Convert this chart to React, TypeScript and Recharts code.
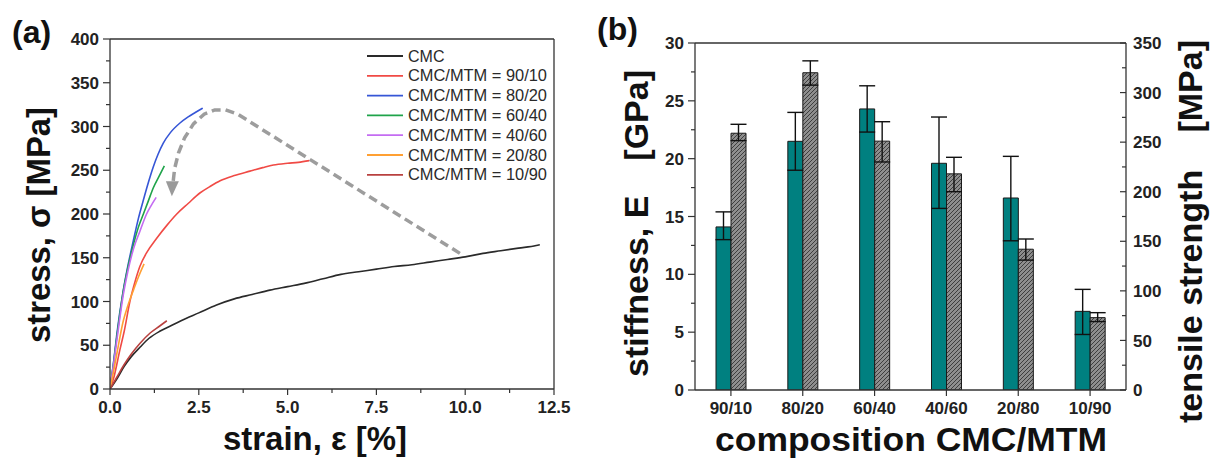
import React from 'react';
import { LineChart, Line, XAxis, YAxis, ReferenceLine, BarChart, Bar, ErrorBar } from 'recharts';

const FONT = '"Liberation Sans", Arial, Helvetica, sans-serif';
const AX = '#333';

// ---------- Panel (a): stress-strain curves ----------
const cmcStrain = [0, 0.2, 0.4, 0.6, 0.85, 1.1, 1.4, 1.7, 2.0, 2.5, 3.0, 3.5, 4.0, 4.5, 5.0, 5.5, 6.0, 6.5, 7.0, 7.5, 8.0, 8.5, 9.0, 9.5, 10.0, 10.5, 11.0, 11.5, 12.0, 12.1];
const cmcStress = [0, 12, 26, 37, 48, 58, 66, 72, 78, 87, 96, 103, 108, 113, 117, 121, 126, 131, 134, 137, 140, 142, 145, 148, 151, 155, 158, 161, 164, 165];

const s9010Strain = [0, 0.1, 0.28, 0.4, 0.56, 0.7, 0.84, 1.05, 1.31, 1.6, 1.88, 2.2, 2.53, 2.8, 3.1, 3.5, 3.94, 4.3, 4.6, 5.0, 5.3, 5.61];
const s9010Stress = [0, 12, 45, 66, 100, 122, 140, 157, 172, 187, 200, 212, 224, 231, 238, 244, 249, 253, 256, 258, 259, 261];

const s8020Strain = [0, 0.1, 0.19, 0.375, 0.5, 0.66, 0.8, 0.94, 1.08, 1.22, 1.35, 1.5, 1.7, 1.97, 2.2, 2.4, 2.61];
const s8020Stress = [0, 30, 62, 113, 140, 170, 195, 216, 236, 254, 268, 281, 293, 304, 311, 316, 321];

const s6040Strain = [0, 0.1, 0.2, 0.375, 0.5, 0.66, 0.8, 0.94, 1.08, 1.22, 1.38, 1.53];
const s6040Stress = [0, 30, 62, 112, 138, 165, 185, 200, 215, 230, 243, 255];

const s4060Strain = [0, 0.1, 0.2, 0.375, 0.5, 0.66, 0.84, 1.03, 1.15, 1.3];
const s4060Stress = [0, 28, 58, 108, 134, 160, 180, 200, 209, 219];

const s2080Strain = [0, 0.1, 0.2, 0.375, 0.5, 0.66, 0.8, 0.96];
const s2080Stress = [0, 20, 42, 78, 95, 113, 128, 143];

const s1090Strain = [0, 0.2, 0.4, 0.6, 0.84, 1.13, 1.4, 1.6];
const s1090Stress = [0, 14, 28, 40, 52, 64, 72, 78];

// dashed annotation arrow
const arrowStrain = [9.85, 3.6, 3.25, 2.95, 2.65, 2.35, 2.1, 1.93, 1.82, 1.77];
const arrowStress = [155, 314, 319, 319, 314, 303, 287, 270, 252, 234];

const seriesNames = ['CMC', 'CMC/MTM = 90/10', 'CMC/MTM = 80/20', 'CMC/MTM = 60/40', 'CMC/MTM = 40/60', 'CMC/MTM = 20/80', 'CMC/MTM = 10/90'];
const seriesColors = ['#2a2a2a', '#f04a45', '#3656d6', '#1fa34a', '#c46cf2', '#ffa033', '#b8413f'];
const seriesStrain = [cmcStrain, s9010Strain, s8020Strain, s6040Strain, s4060Strain, s2080Strain, s1090Strain];
const seriesStress = [cmcStress, s9010Stress, s8020Stress, s6040Stress, s4060Stress, s2080Stress, s1090Stress];

const strainTicks = [0, 1.25, 2.5, 3.75, 5, 6.25, 7.5, 8.75, 10, 11.25, 12.5];
const stressTicks = [0, 25, 50, 75, 100, 125, 150, 175, 200, 225, 250, 275, 300, 325, 350, 375, 400];

// ---------- Panel (b): stiffness / tensile strength ----------
const compositions = ['90/10', '80/20', '60/40', '40/60', '20/80', '10/90'];
const stiffness = [14.1, 21.5, 24.3, 19.6, 16.6, 6.8];
const stiffnessErr = [[1.1, 1.3], [2.5, 2.5], [2.0, 2.0], [3.9, 4.0], [3.7, 3.6], [2.0, 1.9]];
const strength = [259, 320, 251, 218, 142, 73];
const strengthErr = [[7.5, 9], [12.5, 12], [21, 19.6], [18, 16.7], [11, 10.3], [4, 5]];

const gpaTicks = [0, 2.5, 5, 7.5, 10, 12.5, 15, 17.5, 20, 22.5, 25, 27.5, 30];
const mpaTicks = [0, 25, 50, 75, 100, 125, 150, 175, 200, 225, 250, 275, 300, 325, 350];

const tickText = { fontFamily: FONT, fontWeight: 700, fontSize: 17, fill: '#222' } as const;

const LeftTick = (isMajor: (v: number) => boolean, fmt: (v: number) => string) => (props: any) => {
  const { x, y, payload } = props;
  const v = payload.value;
  const major = isMajor(v);
  return (
    <g>
      <line x1={x - (major ? 7 : 4)} x2={x} y1={y} y2={y} stroke={AX} strokeWidth={1.2} />
      {major && (
        <text x={x - 11} y={y} dy="0.36em" textAnchor="end" style={tickText}>{fmt(v)}</text>
      )}
    </g>
  );
};

const RightTick = (isMajor: (v: number) => boolean) => (props: any) => {
  const { x, y, payload } = props;
  const v = payload.value;
  const major = isMajor(v);
  return (
    <g>
      <line x1={x - (major ? 6 : 4)} x2={x} y1={y} y2={y} stroke={AX} strokeWidth={1.2} />
      {major && (
        <text x={x + 7} y={y} dy="0.36em" textAnchor="start" style={tickText}>{v}</text>
      )}
    </g>
  );
};

const BottomTick = (isMajor: (v: any) => boolean, fmt: (v: any) => string) => (props: any) => {
  const { x, y, payload } = props;
  const v = payload.value;
  const major = isMajor(v);
  return (
    <g>
      <line x1={x} x2={x} y1={y} y2={y + (major ? 6 : 4)} stroke={AX} strokeWidth={1.2} />
      {major && (
        <text x={x} y={y + 24} textAnchor="middle" style={tickText}>{fmt(v)}</text>
      )}
    </g>
  );
};

const arrowData = arrowStrain.map((x, i) => ({ x, y: arrowStress[i] }));

const ArrowDot = (p: any) => {
  if (p.index !== arrowStrain.length - 1) return <g key={`ad${p.index}`} />;
  const { cx, cy } = p;
  return (
    <polygon key="arrowhead" points={`${cx - 7},${cy - 3} ${cx + 6},${cy - 3} ${cx - 1},${cy + 12}`} fill="#9a9a9a" />
  );
};

export default function App() {
  const barData = compositions.map((c, i) => ({
    comp: c,
    E: stiffness[i],
    Eerr: stiffnessErr[i],
    TS: strength[i],
    TSerr: strengthErr[i],
  }));

  return (
    <div style={{ position: 'absolute', left: 0, top: 0, width: 1211, height: 460, background: '#fff', overflow: 'hidden' }}>
      <svg width={0} height={0} style={{ position: 'absolute' }}>
        <defs>
          <pattern id="hatch" patternUnits="userSpaceOnUse" width={4} height={4}>
            <rect width={4} height={4} fill="#8e8e8e" />
            <path d="M-1,1 l2,-2 M0,4 l4,-4 M3,5 l2,-2" stroke="#3e3e3e" strokeWidth={1} />
          </pattern>
        </defs>
      </svg>

      {/* Panel (a) */}
      <div style={{ position: 'absolute', left: 0, top: 0 }}>
        <LineChart width={600} height={460} margin={{ top: 39, right: 46, bottom: 41, left: 0 }}>
          <XAxis
            type="number"
            dataKey="x"
            domain={[0, 12.5]}
            ticks={strainTicks}
            interval={0}
            allowDataOverflow
            height={30}
            tickSize={0}
            tickMargin={0}
            tickLine={false}
            axisLine={{ stroke: AX, strokeWidth: 1.3 }}
            tick={BottomTick((v: number) => Math.abs(v / 2.5 - Math.round(v / 2.5)) < 1e-6, (v: number) => v.toFixed(1))}
          />
          <YAxis
            type="number"
            dataKey="y"
            domain={[0, 400]}
            ticks={stressTicks}
            interval={0}
            allowDataOverflow
            width={110}
            tickSize={0}
            tickMargin={0}
            tickLine={false}
            axisLine={{ stroke: AX, strokeWidth: 1.3 }}
            tick={LeftTick((v: number) => v % 50 === 0, (v: number) => String(v))}
          />
          <ReferenceLine y={400} stroke={AX} strokeWidth={1.3} />
          <ReferenceLine x={12.5} stroke={AX} strokeWidth={1.3} />
          <Line
            data={arrowData}
            dataKey="y"
            type="linear"
            stroke="#9d9d9d"
            strokeWidth={3.5}
            strokeDasharray="9 5"
            dot={ArrowDot}
            activeDot={false}
            isAnimationActive={false}
          />
          {seriesNames.map((name, si) => (
            <Line
              key={name}
              name={name}
              data={seriesStrain[si].map((x, i) => ({ x, y: seriesStress[si][i] }))}
              dataKey="y"
              type="monotone"
              stroke={seriesColors[si]}
              strokeWidth={1.6}
              dot={false}
              activeDot={false}
              isAnimationActive={false}
            />
          ))}
        </LineChart>
      </div>

      {/* Panel (b) */}
      <div style={{ position: 'absolute', left: 600, top: 0 }}>
        <BarChart width={611} height={460} data={barData} margin={{ top: 43, right: 0, bottom: 40, left: 0 }} barGap={0}>
          <XAxis
            dataKey="comp"
            height={30}
            tickSize={0}
            tickMargin={0}
            tickLine={false}
            interval={0}
            axisLine={{ stroke: AX, strokeWidth: 1.3 }}
            tick={BottomTick(() => true, (v: string) => v)}
          />
          <YAxis
            yAxisId="left"
            orientation="left"
            domain={[0, 30]}
            ticks={gpaTicks}
            interval={0}
            allowDataOverflow
            width={95}
            tickSize={0}
            tickMargin={0}
            tickLine={false}
            axisLine={{ stroke: AX, strokeWidth: 1.3 }}
            tick={LeftTick((v: number) => v % 5 === 0, (v: number) => String(v))}
          />
          <YAxis
            yAxisId="right"
            orientation="right"
            domain={[0, 350]}
            ticks={mpaTicks}
            interval={0}
            allowDataOverflow
            width={85}
            tickSize={0}
            tickMargin={0}
            tickLine={false}
            axisLine={{ stroke: AX, strokeWidth: 1.3 }}
            tick={RightTick((v: number) => v % 50 === 0)}
          />
          <ReferenceLine yAxisId="left" y={30} stroke={AX} strokeWidth={1.3} />
          <Bar yAxisId="left" dataKey="E" barSize={15} fill="#008080" stroke="#1a1a1a" strokeWidth={1} isAnimationActive={false}>
            <ErrorBar dataKey="Eerr" width={8} stroke="#111" strokeWidth={1.4} direction="y" />
          </Bar>
          <Bar yAxisId="right" dataKey="TS" barSize={15} fill="url(#hatch)" stroke="#1a1a1a" strokeWidth={1} isAnimationActive={false}>
            <ErrorBar dataKey="TSerr" width={8} stroke="#111" strokeWidth={1.4} direction="y" />
          </Bar>
        </BarChart>
      </div>

      {/* Titles, legend and panel labels */}
      <svg width={1211} height={460} style={{ position: 'absolute', left: 0, top: 0, pointerEvents: 'none' }}>
        <g style={{ fontFamily: FONT, fontWeight: 700, fill: '#111' }}>
          <text x={12} y={43} fontSize={32}>(a)</text>
          <text x={597} y={40} fontSize={32}>(b)</text>

          <text transform="translate(50,343) rotate(-90)" fontSize={33} textAnchor="start" textLength={236} lengthAdjust="spacingAndGlyphs">stress, σ [MPa]</text>
          <text x={223} y={450} fontSize={33} textLength={184} lengthAdjust="spacingAndGlyphs">strain, ε [%]</text>

          <text transform="translate(648,377) rotate(-90)" fontSize={34} textAnchor="start">stiffness, E</text>
          <text transform="translate(648,70) rotate(-90)" fontSize={34} textAnchor="end">[GPa]</text>
          <text transform="translate(1202,423) rotate(-90)" fontSize={34} textAnchor="start">tensile strength</text>
          <text transform="translate(1202,40) rotate(-90)" fontSize={34} textAnchor="end">[MPa]</text>
          <text x={715} y={451} fontSize={34} textLength={392} lengthAdjust="spacingAndGlyphs">composition CMC/MTM</text>
        </g>
        <g style={{ fontFamily: FONT, fontSize: 16, fill: '#2a2a2a' }}>
          {seriesNames.map((name, i) => (
            <g key={name}>
              <line x1={367} x2={403} y1={56 + i * 19.8} y2={56 + i * 19.8} stroke={seriesColors[i]} strokeWidth={1.8} />
              <text x={408} y={56 + i * 19.8 + 5.5} textLength={name === 'CMC' ? undefined : 139} lengthAdjust="spacingAndGlyphs">{name}</text>
            </g>
          ))}
        </g>
      </svg>
    </div>
  );
}
